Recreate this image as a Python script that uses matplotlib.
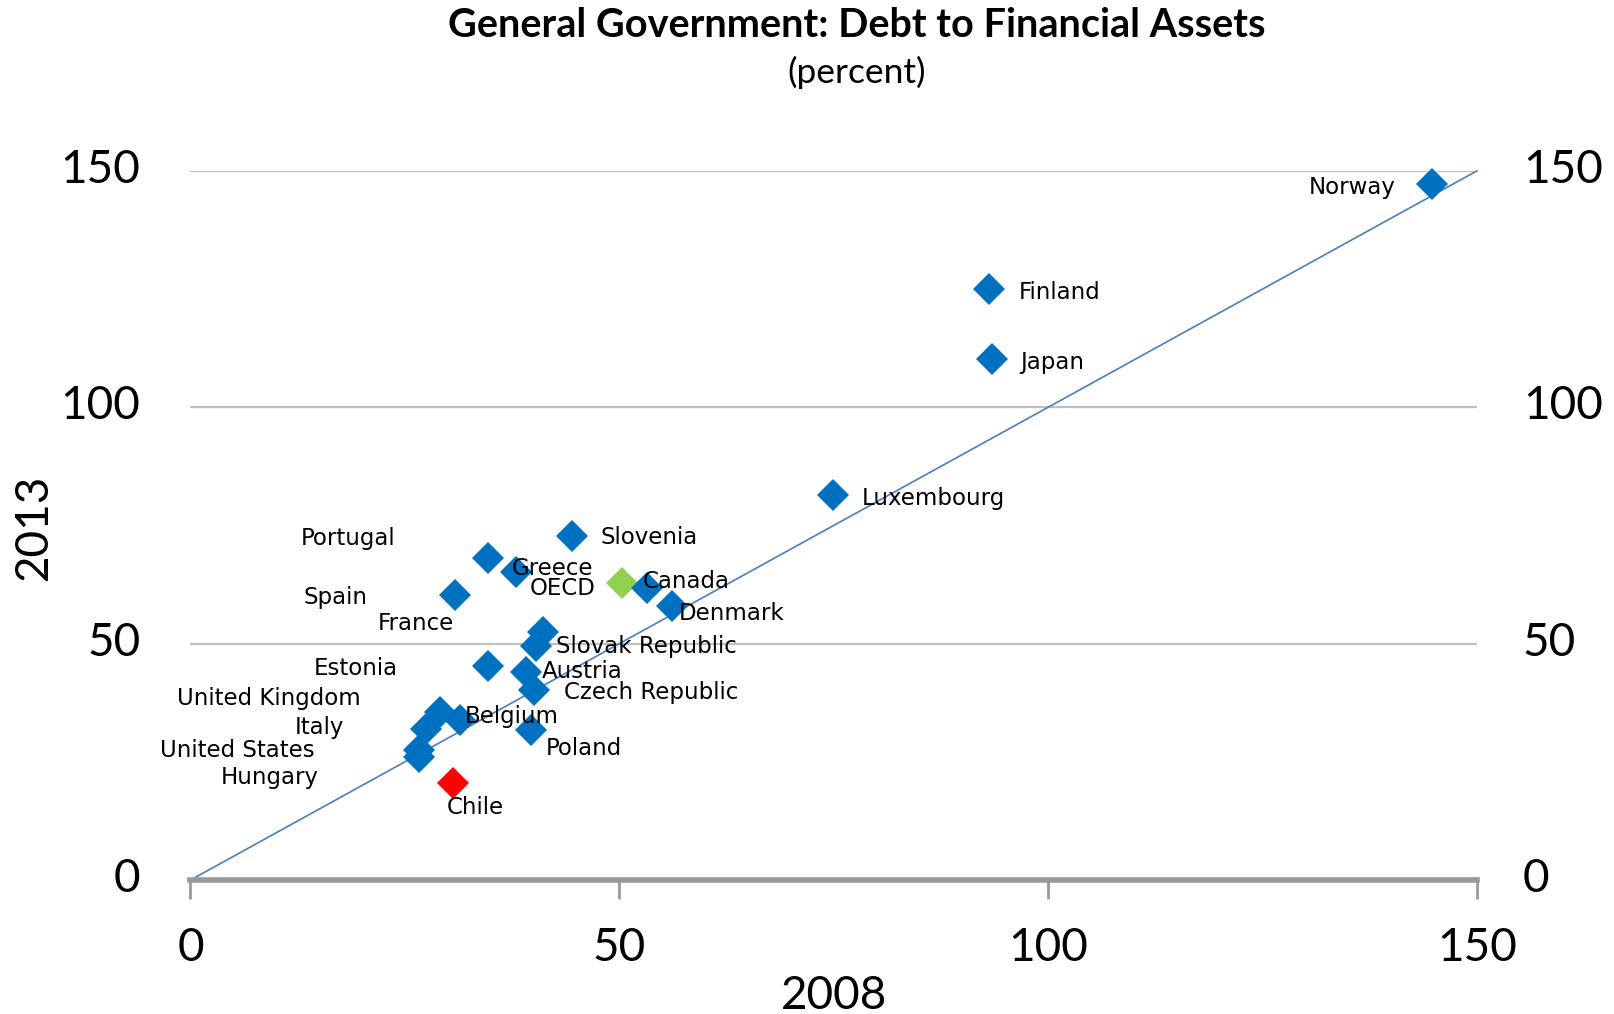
import numpy as np
import matplotlib
matplotlib.use('Agg')
import matplotlib.pyplot as plt
from matplotlib.transforms import ScaledTranslation

# ---- data ----
countries = ['Norway', 'Finland', 'Japan', 'Luxembourg', 'Slovenia', 'Portugal',
             'Greece', 'OECD', 'Canada', 'Denmark', 'Spain', 'France',
             'Slovak Republic', 'Estonia', 'Austria', 'Czech Republic',
             'United Kingdom', 'Belgium', 'Italy', 'United States', 'Hungary',
             'Poland', 'Chile']
debt_2008 = [144.7, 93.1, 93.4, 74.9, 44.5, 34.7,
             37.9, 50.3, 53.2, 56.2, 30.9, 41.1,
             40.3, 34.7, 39.1, 40.1,
             29.1, 31.4, 27.5, 26.6, 26.7,
             39.7, 30.6]
debt_2013 = [147.2, 125.0, 110.2, 81.4, 72.8, 68.1,
             65.2, 62.8, 61.7, 58.0, 60.3, 52.5,
             49.5, 45.3, 44.0, 40.3,
             35.6, 33.8, 31.9, 27.5, 26.1,
             31.7, 20.6]
ticks = [0, 50, 100, 150]

# label placement: (dx, dy) in pixels, horizontal alignment
label_pos = {
    'Norway': (-36, 0, 'right'), 'Finland': (30, 0, 'left'), 'Japan': (29, 0, 'left'),
    'Luxembourg': (29, 0, 'left'), 'Slovenia': (28, 1, 'left'),
    'Portugal': (-93, 23, 'right'), 'Greece': (-4, 6, 'left'),
    'OECD': (-26, -2, 'right'), 'Canada': (-4, 10, 'left'), 'Denmark': (6, -5, 'left'),
    'Spain': (-88, 0, 'right'), 'France': (-89, 11, 'right'),
    'Slovak Republic': (20, 3, 'left'), 'Estonia': (-90, 0, 'right'),
    'Austria': (16, 4, 'left'), 'Czech Republic': (30, 0, 'left'),
    'United Kingdom': (-79, 16, 'right'), 'Belgium': (5, 7, 'left'),
    'Italy': (-82, 5, 'right'), 'United States': (-104, 3, 'right'),
    'Hungary': (-101, -18, 'right'), 'Poland': (15, -15, 'left'),
    'Chile': (-6, -22, 'left'),
}
colors = {'OECD': '#92D050', 'Chile': '#FF0000'}

tick_font = 'Lato'

fig = plt.figure(figsize=(16.14, 10.14), dpi=100)
ax = fig.add_axes([0.118, 0.1321, 0.7971, 0.6994])

# grid lines
for t in ticks[1:]:
    ax.axhline(t, color='#BFBFBF', linewidth=1.6, zorder=1)

# 45 degree line
ax.plot([0, 150], [0, 150], color='#4A7EBB', linewidth=1.2, zorder=2, clip_on=False)

for name, x, y in zip(countries, debt_2008, debt_2013):
    ax.plot(x, y, marker='D', markersize=16.5, linestyle='none',
            color=colors.get(name, '#0070C0'), markeredgewidth=0, zorder=3, clip_on=False)
    dx, dy, ha = label_pos[name]
    ax.annotate(name, (x, y), xytext=(dx, dy - 3), textcoords='offset pixels',
                ha=ha, va='center', fontsize=16.5, family='DejaVu Sans', zorder=4)

ax.set_xlim(0, 150)
ax.set_ylim(0, 150)
ax.set_xticks(ticks)
ax.set_yticks(ticks)
ax.set_xticklabels([str(t) for t in ticks], fontsize=33, family=tick_font)
ax.set_yticklabels([str(t) for t in ticks], fontsize=33, family=tick_font)

for s in ['top', 'left', 'right']:
    ax.spines[s].set_visible(False)
ax.spines['bottom'].set_color('#999999')
ax.spines['bottom'].set_linewidth(4)
ax.spines['bottom'].set_zorder(2.5)

ax.tick_params(axis='x', direction='out', length=14, width=2, color='#999999', pad=20)
ax.tick_params(axis='y', length=0, pad=36, labelright=True)

# nudge y tick labels up a little, right ones a bit closer
for tk in ax.yaxis.get_major_ticks():
    tk.label1.set_transform(tk.label1.get_transform()
                            + ScaledTranslation(0, 0.05, fig.dpi_scale_trans))
    tk.label2.set_transform(tk.label2.get_transform()
                            + ScaledTranslation(-0.04, 0.05, fig.dpi_scale_trans))

ax.set_xlabel('2008', fontsize=33, family=tick_font, labelpad=4)
fig.text(0.021, 0.480, '2013', rotation=90, ha='center', va='center',
         fontsize=33, family=tick_font)

fig.text(0.531, 0.975, 'General Government: Debt to Financial Assets',
         ha='center', va='center', fontsize=28.5, fontweight='bold', family=tick_font)
fig.text(0.531, 0.929, '(percent)', ha='center', va='center', fontsize=25.5, family=tick_font)

fig.savefig('out.png', dpi=100)
